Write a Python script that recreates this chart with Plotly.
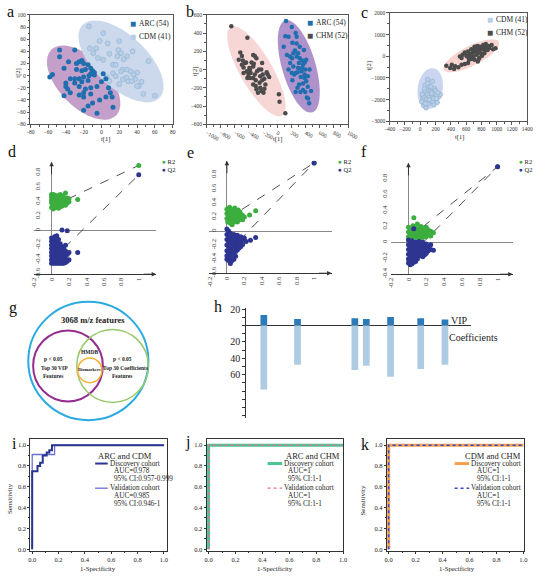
import numpy as np
import plotly.graph_objects as go

W, H = 546, 577
SERIF = "Liberation Serif"

# ---------------- data ----------------
# (a) ARC vs CDM score plot
a_arc_t1 = [-47,-47,-30,-42,-37,-28,-25,-22,-20,-15,-28,-22,-18,-12,-10,-8,-12,-8,-14,-20,-25,-30,-35,-40,-40,-38,-35,-42,-55,-58,-30,-22,-15,-25,-18,-12,-20,-25,-20,-12,-5,0,2,5,8,10,5,-2,-10,-15,-20,-5,13,12]
a_arc_t2 = [42,31,42,12,23,20,23,25,20,18,10,8,10,12,8,5,3,1,0,-2,-5,-5,-5,-12,-18,-22,-28,-33,2,-2,-12,-10,-8,-18,-22,-20,-28,-32,-35,-30,-18,-10,3,-5,-20,-28,-35,-40,-45,-50,-57,-62,-52,-35]
a_cdm_t1 = [-14,2,-6,-13,-2,9,19,22,20,29,13,16,25,24,29,33,38,30,34,42,40,53,47,60,22,20,13,6,9,-9,-4,2,36,40,28,24,16,18,7,35,45]
a_cdm_t2 = [81,70,45,45,57,36,42,37,57,32,18,18,27,10,10,7,-6,-9,-9,-17,5,24,-30,-33,7,-14,4,-3,-9,37,29,26,2,-17,-3,-6,-1,32,53,40,-10]

# (b) ARC vs CHM score plot
b_chm_t1 = [-650,-423,-523,-500,-545,-441,-341,-318,-295,-341,-477,-409,-409,-386,-341,-305,-259,-227,-214,-136,-114,-182,-250,-241,-295,-227,-182,-168,-273,23,32,114,-386,-377,-455,-500,-395,-423,-318,-286,-205,-241,-341,-305,-195,-214,-364,-332,-486,-432,-477,-150]
b_chm_t2 = [474,348,186,150,107,78,161,150,125,35,24,-37,-73,-91,-91,-116,0,0,71,-55,-80,-101,-145,-199,-217,-235,-209,-163,-253,-271,-353,-479,0,-37,71,53,17,-91,-55,-19,-55,-73,-163,-181,-253,-116,78,64,100,-19,-37,-30]
b_arc_t1 = [123,205,114,159,273,259,91,214,250,295,273,318,350,386,409,364,305,209,182,227,295,350,395,286,259,205,332,386,432,409,364,309,286,364,432,477,395,259,327,418,436,450,214,159,241,341,455,377,227,182,318,273,136,386]
b_arc_t2 = [532,467,366,359,359,402,251,294,208,179,143,125,100,78,107,53,71,125,71,35,17,17,0,-30,-37,-37,-80,-91,-73,-127,-152,-163,-199,-224,-188,-235,-246,-246,-246,-307,-318,-368,-116,0,-55,-19,0,215,179,143,251,287,161,-55]

# (c) CDM vs CHM score plot
c_chm_t1 = [341,392,443,498,541,583,625,541,604,647,689,723,765,795,825,858,892,934,985,740,774,710,668,753,808,838,880,710,668,625,583,554,519,613,655,698,753,782,816,850,901,731,689,753,795,638,456,413,850,952,680,765]
c_chm_t2 = [-432,-538,-583,-508,-387,-357,-311,-85,21,112,172,248,369,444,520,565,474,520,369,66,-85,-160,-130,-236,21,142,293,444,323,218,172,66,-9,-9,-39,-9,218,293,323,414,369,444,293,474,112,-160,-462,-387,263,323,66,-130]
c_cdm_t1 = [96,159,130,117,53,96,159,189,244,265,75,45,75,117,159,223,138,87,189,32,19,104,214,62,138,60,110,170,200,40,85,150,230,70,120,180,25,95,140,210,55]
c_cdm_t2 = [-1066,-1156,-1489,-1413,-1716,-1761,-1822,-1716,-1867,-1761,-2051,-2277,-2383,-2126,-2081,-2126,-1640,-1564,-1489,-1943,-2096,-2202,-1822,-1338,-1822,-1600,-1900,-1950,-1580,-1850,-1980,-1700,-1680,-2180,-2000,-2250,-1750,-1250,-1400,-1950,-1500]

# confidence ellipses: centre and two half-axis vectors (data units)
ell_a_arc = ((-20, -11.5), (36.4, -53.9), (19.3, 28.5))
ell_a_cdm = ((22, 23.5), (43.6, -59.3), (19.6, 31.8))
ell_b_chm = ((-295, -19), (364, -486), (195, 92))
ell_b_arc = ((304, 35), (191, -504), (227, 54))
ell_c_chm = ((668, 21), (360, 642), (57, -405))
ell_c_cdm = ((130, -1489), (42, 937), (161, -90))

# (d) permutation test ARC vs CDM
d_r2_x = [0,0,0,0,0,0.02,0.02,0.02,0.02,0.02,0.04,0.04,0.04,0.04,0.04,0.06,0.06,0.06,0.06,0.08,0.08,0.08,0.08,0.1,0.1,0.1,0.1,0.12,0.12,0.12,0.12,0.14,0.14,0.14,0.16,0.16,0.16,0.18,0.18,0.2,0.2,0.3,1.0]
d_r2_y = [0.32,0.38,0.42,0.46,0.5,0.30,0.35,0.40,0.45,0.50,0.32,0.36,0.41,0.46,0.49,0.33,0.38,0.43,0.48,0.31,0.36,0.42,0.47,0.33,0.38,0.43,0.5,0.34,0.39,0.44,0.48,0.36,0.41,0.46,0.35,0.42,0.52,0.38,0.45,0.4,0.44,0.43,0.9]
d_q2_x = [0,0,0,0,0,0,0,0,
          0.02,0.02,0.02,0.02,0.02,0.02,0.02,0.02,
          0.04,0.04,0.04,0.04,0.04,0.04,0.04,0.04,
          0.06,0.06,0.06,0.06,0.06,0.06,0.06,0.06,
          0.08,0.08,0.08,0.08,0.08,0.08,0.08,
          0.10,0.10,0.10,0.10,0.10,0.10,
          0.12,0.12,0.12,0.12,0.12,0.12,
          0.14,0.14,0.14,0.14,
          0.16,0.16,0.16,0.16,
          0.18,0.18,0.18,
          0.20,0.20,
          0.30,1.0]
d_q2_y = [-0.45,-0.40,-0.35,-0.30,-0.25,-0.20,-0.15,-0.10,
          -0.45,-0.40,-0.35,-0.30,-0.25,-0.20,-0.15,-0.10,
          -0.45,-0.40,-0.35,-0.30,-0.25,-0.20,-0.15,-0.08,
          -0.45,-0.40,-0.35,-0.30,-0.25,-0.20,-0.15,-0.07,
          -0.45,-0.40,-0.35,-0.30,-0.25,-0.20,-0.12,
          -0.45,-0.40,-0.35,-0.30,-0.25,-0.18,
          -0.45,-0.40,-0.35,-0.30,-0.22,0.01,
          -0.45,-0.38,-0.32,-0.25,
          -0.44,-0.36,-0.28,-0.20,
          -0.42,-0.33,0.00,
          -0.40,-0.30,
          -0.30,0.77]

# (e) permutation test ARC vs CHM
e_r2_x = [0.00,0.00,0.00,0.01,0.02,0.02,0.02,0.03,0.04,0.04,0.04,0.05,0.06,0.06,0.06,0.07,0.08,0.08,0.08,0.09,0.10,0.10,0.10,0.11,0.12,0.12,0.12,0.13,0.14,0.14,0.15,0.16,0.16,0.17,0.18,0.18,0.20,0.26,0.33,1.00]
e_r2_y = [0.18,0.25,0.31,0.13,0.16,0.22,0.28,0.34,0.11,0.19,0.25,0.31,0.09,0.15,0.22,0.28,0.13,0.19,0.26,0.33,0.15,0.21,0.27,0.17,0.13,0.2,0.25,0.3,0.16,0.22,0.27,0.18,0.24,0.2,0.16,0.22,0.2,0.23,0.29,0.97]
e_q2_x = [0.00,0.00,0.00,0.00,0.00,0.00,0.00,0.02,0.02,0.02,0.02,0.02,0.02,0.02,0.04,0.04,0.04,0.04,0.04,0.04,0.04,0.06,0.06,0.06,0.06,0.06,0.06,0.08,0.08,0.08,0.08,0.08,0.08,0.10,0.10,0.10,0.10,0.10,0.12,0.12,0.12,0.12,0.14,0.14,0.14,0.16,0.16,0.16,0.18,0.18,0.20,0.22,0.27,0.33,1.00]
e_q2_y = [0.03,-0.05,-0.12,-0.20,-0.28,-0.35,-0.40,0.00,-0.08,-0.15,-0.22,-0.30,-0.37,-0.42,-0.03,-0.10,-0.18,-0.25,-0.32,-0.40,-0.46,-0.06,-0.13,-0.20,-0.27,-0.34,-0.42,-0.05,-0.12,-0.19,-0.26,-0.33,-0.40,-0.08,-0.15,-0.22,-0.29,-0.36,-0.06,-0.13,-0.20,-0.27,-0.10,-0.17,-0.24,-0.08,-0.15,-0.22,-0.12,-0.19,-0.10,-0.15,-0.13,-0.09,0.97]

# (f) permutation test CDM vs CHM
f_r2_x = [0.00,0.00,0.00,0.03,0.03,0.03,0.05,0.05,0.05,0.06,0.08,0.08,0.08,0.10,0.10,0.10,0.12,0.12,0.12,0.14,0.14,0.14,0.16,0.16,0.16,0.18,0.18,0.20,0.20,0.20,0.22,0.22,0.25,0.25,0.28,1.00]
f_r2_y = [0.07,0.13,0.19,0.05,0.11,0.17,0.09,0.15,0.21,0.31,0.06,0.12,0.18,0.09,0.15,0.23,0.05,0.11,0.17,0.08,0.14,0.2,0.06,0.12,0.18,0.09,0.15,0.07,0.13,0.19,0.1,0.16,0.08,0.14,0.12,0.95]
f_q2_x = [0.00,0.00,0.00,0.00,0.00,0.00,0.02,0.02,0.02,0.02,0.02,0.02,0.04,0.04,0.04,0.04,0.04,0.04,0.06,0.06,0.06,0.06,0.06,0.06,0.08,0.08,0.08,0.08,0.08,0.10,0.10,0.10,0.10,0.12,0.12,0.12,0.12,0.14,0.14,0.14,0.16,0.16,0.16,0.16,0.18,0.18,0.18,0.20,0.20,0.20,0.22,0.22,0.25,0.25,0.28,1.00]
f_q2_y = [0.03,-0.03,-0.09,-0.15,-0.21,-0.26,0.00,-0.06,-0.12,-0.18,-0.24,-0.28,0.02,-0.04,-0.10,-0.16,-0.22,-0.27,0.17,-0.02,-0.08,-0.14,-0.20,-0.25,0.00,-0.06,-0.12,-0.18,-0.24,-0.03,-0.09,-0.15,-0.21,0.01,-0.05,-0.11,-0.17,-0.02,-0.08,-0.14,0.00,-0.06,-0.12,-0.18,-0.04,-0.10,-0.16,-0.02,-0.08,-0.14,-0.05,-0.11,-0.03,-0.09,-0.10,0.95]

# regression lines of the permutation tests: (intercept at x=0, value at x=1)
d_r2_line = [0.33, 0.9];  d_q2_line = [-0.41, 0.77]
e_r2_line = [0.17, 0.97]; e_q2_line = [-0.32, 0.97]
f_r2_line = [0.05, 0.95]; f_q2_line = [-0.19, 0.95]

perm_xtick_vals = [-0.2, 0, 0.2, 0.4, 0.6, 0.8, 1]
perm_xtick_text = ["-0.2", "0", "0.2", "0.4", "0.6", "0.8", "1"]
perm_ytick_vals = [-0.6, -0.4, -0.2, 0, 0.2, 0.4, 0.6, 0.8]
perm_ytick_text = ["-0.6", "-0.4", "-0.2", "0", "0.2", "0.4", "0.6", "0.8"]

# (h) VIP and coefficients of selected features
h_feature_pos = [7.8, 22.8, 48.3, 53.4, 64.2, 77.6, 88.4]
h_vip = [12.8, 8.0, 8.8, 8.0, 10.4, 8.8, 7.2]
h_coef = [78, 48, 54.4, 49.2, 62.4, 53.2, 48]
h_tick_vals = [20, 10, 0, -10, -20, -30, -40, -50, -60, -70, -80, -90, -100, -110]
h_tick_text = ["20", "", "", "", "20", "", "40", "", "60", "", "", "", "", ""]

# (i, j, k) ROC curves
i_disc_fpr = [0, 0, 0.04, 0.06, 0.08, 0.11, 0.13, 0.15, 1]
i_disc_tpr = [0, 0.75, 0.80, 0.83, 0.90, 0.93, 0.95, 1, 1]
i_val_fpr = [0, 0, 0.17, 1]
i_val_tpr = [0, 0.91, 1, 1]
j_disc_fpr = [0, 0, 1]; j_disc_tpr = [0, 1, 1]
j_val_fpr = [0, 0, 1];  j_val_tpr = [0, 1, 1]
k_disc_fpr = [0, 0, 1]; k_disc_tpr = [0, 1, 1]
k_val_fpr = [0, 0, 1];  k_val_tpr = [0, 1, 1]

# ---------------- colours ----------------
C_ARC = "#1f6fae"
C_CDM = "#b7cfe6"
C_CDM_EDGE = "#8eaed0"
C_CHM = "#4b4b4b"
C_R2 = "#3cae3f"
C_Q2 = "#2d3591"

# ---------------- helpers ----------------
def xdom(l, r): return [l / W, r / W]
def ydom(t, b): return [1 - b / H, 1 - t / H]
def PX(x): return x / W
def PY(y): return 1 - y / H

fig = go.Figure()
layout_axes = {}
shapes = []
anns = []

def add_axes(n, xd, yd, xr, yr, xkw=None, ykw=None):
    s = "" if n == 1 else str(n)
    ax = dict(domain=xd, range=xr, anchor="y" + s, showgrid=False, zeroline=False)
    ay = dict(domain=yd, range=yr, anchor="x" + s, showgrid=False, zeroline=False)
    ax.update(xkw or {})
    ay.update(ykw or {})
    layout_axes["xaxis" + s] = ax
    layout_axes["yaxis" + s] = ay

def txt(x, y, s, size, xanchor="center", yanchor="middle", bold=False, angle=0, color="#222"):
    anns.append(dict(x=PX(x), y=PY(y), xref="paper", yref="paper",
                     text=("<b>" + s + "</b>") if bold else s, showarrow=False,
                     xanchor=xanchor, yanchor=yanchor, textangle=angle, borderpad=0,
                     font=dict(family=SERIF, size=size, color=color)))

def ellipse(params, n, fill):
    (cx, cy), (ux, uy), (vx, vy) = params
    t = np.linspace(0, 2 * np.pi, 90)
    xs = cx + np.cos(t) * ux + np.sin(t) * vx
    ys = cy + np.cos(t) * uy + np.sin(t) * vy
    path = "M " + " L ".join(f"{a:.2f},{b:.2f}" for a, b in zip(xs, ys)) + " Z"
    s = "" if n == 1 else str(n)
    shapes.append(dict(type="path", path=path, xref="x" + s, yref="y" + s,
                       fillcolor=fill, line=dict(width=0), layer="below"))

def score_axis(dtick, minor):
    return dict(showline=True, linecolor="#555", linewidth=0.8, mirror=True,
                ticks="outside", ticklen=2.5, tickwidth=0.6, tickcolor="#555",
                tickfont=dict(family=SERIF, size=5.5, color="#333"), dtick=dtick,
                minor=dict(ticks="outside", ticklen=1.5, tickwidth=0.5, tickcolor="#555", dtick=minor))

# ---------------- panels a-c ----------------
add_axes(1, xdom(25, 172), ydom(11, 122), [-80, 80], [-80, 100], score_axis(20, 10), score_axis(20, 10))
add_axes(2, xdom(207, 353), ydom(11, 122), [-1000, 1000], [-600, 600], score_axis(200, 100), score_axis(200, 100))
add_axes(3, xdom(396, 538), ydom(9, 119), [-400, 1400], [-3000, 2000], score_axis(200, 100), score_axis(1000, 500))

ellipse(ell_a_arc, 1, "#c49fc9")
ellipse(ell_a_cdm, 1, "#ccd9ec")
ellipse(ell_b_chm, 2, "#f7d6d6")
ellipse(ell_b_arc, 2, "#ad92cc")
ellipse(ell_c_chm, 3, "#f8d4d0")
ellipse(ell_c_cdm, 3, "#cad5ef")

def pts(x, y, n, color, size=5, edge=None):
    s = "" if n == 1 else str(n)
    fig.add_trace(go.Scatter(x=x, y=y, mode="markers", xaxis="x" + s, yaxis="y" + s,
                             marker=dict(color=color, size=size,
                                         line=dict(color=edge or color, width=0.6 if edge else 0))))

pts(a_cdm_t1, a_cdm_t2, 1, C_CDM, 5, C_CDM_EDGE)
pts(a_arc_t1, a_arc_t2, 1, C_ARC, 5)
pts(b_chm_t1, b_chm_t2, 2, C_CHM, 4.5)
pts(b_arc_t1, b_arc_t2, 2, C_ARC, 4.5)
pts(c_chm_t1, c_chm_t2, 3, C_CHM, 4.5)
pts(c_cdm_t1, c_cdm_t2, 3, C_CDM, 4.5, C_CDM_EDGE)

# legends a-c
def sq_legend(x, y, color, label):
    txt(x, y, "■", 10, color=color)
    txt(x + 5, y, label, 7.5, xanchor="left")

sq_legend(131, 20, C_ARC, "ARC (54)")
sq_legend(131, 33, C_CDM, "CDM (41)")
sq_legend(314, 19, C_ARC, "ARC (54)")
sq_legend(314, 32, C_CHM, "CHM (52)")
sq_legend(500, 16, C_CDM, "CDM (41)")
sq_legend(500, 29, C_CHM, "CHM (52)")

for (x1, y1, x2, y2) in [(103, 137, 12, 70), (280, 137, 195, 68), (468, 135, 375, 63)]:
    txt(x1, y1, "t[1]", 6.5)
    txt(x2, y2, "t[2]", 6.5, angle=-90)

# ---------------- panels d-f ----------------
def perm_x():
    return dict(showline=True, linecolor="#333", linewidth=1, tickangle=-90,
                tickvals=perm_xtick_vals, ticktext=perm_xtick_text,
                tickfont=dict(family=SERIF, size=6.5, color="#333"),
                zeroline=True, zerolinecolor="#888", zerolinewidth=1)

def perm_y(pos, vals, text):
    return dict(anchor="free", position=pos, showline=False, tickangle=-90,
                tickvals=vals, ticktext=text,
                tickfont=dict(family=SERIF, size=6.5, color="#333"),
                zeroline=True, zerolinecolor="#888", zerolinewidth=1)

add_axes(4, xdom(29, 155), ydom(160, 274), [-0.2, 1.2], [-0.6, 0.95],
         perm_x(), perm_y(36 / W, perm_ytick_vals, perm_ytick_text))
add_axes(5, xdom(210, 336), ydom(159, 273), [-0.2, 1.2], [-0.6, 1.0],
         perm_x(), perm_y(218 / W, perm_ytick_vals, perm_ytick_text))
add_axes(6, xdom(397, 523), ydom(161, 274), [-0.2, 1.17], [-0.4, 1.0],
         perm_x(), perm_y(395 / W, perm_ytick_vals[1:], perm_ytick_text[1:]))

def perm_panel(n, r2x, r2y, q2x, q2y, r2l, q2l, xr, yr, legx):
    s = str(n)
    for ln in (r2l, q2l):
        fig.add_trace(go.Scatter(x=[0, 1], y=ln, mode="lines", xaxis="x" + s, yaxis="y" + s,
                                 line=dict(color="#222", width=0.8, dash="dash")))
    fig.add_trace(go.Scatter(x=r2x, y=r2y, mode="markers", xaxis="x" + s, yaxis="y" + s,
                             marker=dict(color=C_R2, size=5)))
    fig.add_trace(go.Scatter(x=q2x, y=q2y, mode="markers", xaxis="x" + s, yaxis="y" + s,
                             marker=dict(color=C_Q2, size=5)))
    anns.append(dict(x=0, y=yr[1], xref="x" + s, yref="y" + s, ax=0, ay=14, text="",
                     showarrow=True, arrowhead=2, arrowsize=0.9, arrowwidth=1, arrowcolor="#333"))
    anns.append(dict(x=xr[1], y=yr[0], xref="x" + s, yref="y" + s, ax=-14, ay=0, text="",
                     showarrow=True, arrowhead=2, arrowsize=0.9, arrowwidth=1, arrowcolor="#333"))
    txt(legx, 160, f'<span style="color:{C_R2}">●</span> R2', 6.5, xanchor="left")
    txt(legx, 168, f'<span style="color:{C_Q2}">●</span> Q2', 6.5, xanchor="left")

perm_panel(4, d_r2_x, d_r2_y, d_q2_x, d_q2_y, d_r2_line, d_q2_line, [-0.2, 1.2], [-0.6, 0.95], 160)
perm_panel(5, e_r2_x, e_r2_y, e_q2_x, e_q2_y, e_r2_line, e_q2_line, [-0.2, 1.2], [-0.6, 1.0], 342)
perm_panel(6, f_r2_x, f_r2_y, f_q2_x, f_q2_y, f_r2_line, f_q2_line, [-0.2, 1.17], [-0.4, 1.0], 528)

# ---------------- panel g (Venn) ----------------
def circ(x0, y0, x1, y1, color, width):
    shapes.append(dict(type="circle", xref="paper", yref="paper",
                       x0=PX(x0), x1=PX(x1), y0=PY(y1), y1=PY(y0),
                       line=dict(color=color, width=width)))

circ(23, 302, 147, 422, "#2aaae1", 2)
circ(28, 331, 100, 403, "#952d8f", 2)
circ(73, 330, 147, 404, "#98c96a", 1.5)
circ(74, 359, 99, 384, "#f8b234", 1.5)
txt(90, 320, "3068 m/z features", 8.5, bold=True)
txt(86, 353, "HMDB", 5.5, bold=True)
txt(86, 371, "Biomarkers", 4.5, bold=True)
txt(49, 360, "p < 0.05", 5.5, bold=True)
txt(50, 369, "Top 30 VIP", 5.5, bold=True)
txt(49, 377, "Features", 5.5, bold=True)
txt(120, 360, "p < 0.05", 5.5, bold=True)
txt(123, 369, "Top 30 Coefficients", 5.5, bold=True)
txt(120, 377, "Features", 5.5, bold=True)

# ---------------- panel h ----------------
add_axes(7, xdom(248, 480), ydom(308, 420), [0, 100], [-113, 21.6],
         dict(visible=False),
         dict(showline=True, linecolor="#333", linewidth=1, ticks="outside", ticklen=3,
              tickcolor="#333", tickvals=h_tick_vals, ticktext=h_tick_text,
              tickfont=dict(family=SERIF, size=10, color="#222"),
              zeroline=True, zerolinecolor="#333", zerolinewidth=1.2))
fig.add_trace(go.Bar(x=h_feature_pos, y=h_vip, width=3, xaxis="x7", yaxis="y7",
                     marker=dict(color="#2c7bb8", line=dict(width=0))))
fig.add_trace(go.Bar(x=h_feature_pos, y=[-c for c in h_coef], width=3, xaxis="x7", yaxis="y7",
                     marker=dict(color="#aecbe4", line=dict(width=0))))
txt(468, 321, "VIP", 10)
txt(483, 338, "Coefficients", 10)

# ---------------- panels i-k ----------------
def roc_axis():
    return dict(showline=True, linecolor="#333", linewidth=0.8, mirror=True,
                ticks="outside", ticklen=2, tickcolor="#333", tick0=0, dtick=0.2,
                tickformat=".1f", tickfont=dict(family=SERIF, size=6.5, color="#222"),
                minor=dict(ticks="outside", ticklen=1.2, tickcolor="#333", dtick=0.1, tick0=0))

add_axes(8, xdom(25, 166), ydom(441, 555), [-0.015, 1.022], [-0.02, 1.06], roc_axis(), roc_axis())
add_axes(9, xdom(207, 348), ydom(441, 555), [-0.015, 1.0], [-0.02, 1.06], roc_axis(), roc_axis())
add_axes(10, xdom(393, 535), ydom(441, 555), [-0.014, 1.007], [-0.02, 1.06], roc_axis(), roc_axis())

def roc(n, x, y, color, width, dash="solid"):
    s = str(n)
    fig.add_trace(go.Scatter(x=x, y=y, mode="lines", xaxis="x" + s, yaxis="y" + s,
                             line=dict(color=color, width=width, dash=dash, shape="hv")))

roc(8, i_val_fpr, i_val_tpr, "#6c70d6", 1.3)
roc(8, i_disc_fpr, i_disc_tpr, "#283593", 2)
roc(9, j_disc_fpr, j_disc_tpr, "#49c495", 3)
roc(9, j_val_fpr, j_val_tpr, "#f06b8a", 1.2, "dot")
roc(10, k_disc_fpr, k_disc_tpr, "#f6a04d", 3)
roc(10, k_val_fpr, k_val_tpr, "#3546d4", 1.5, "dot")

def roc_legend(title_x, lx0, lx1, tx, title, c1, w1, d1, auc1, ci1, c2, w2, d2, auc2, ci2):
    txt(title_x, 458, title, 8.5)
    shapes.append(dict(type="line", xref="paper", yref="paper", x0=PX(lx0), x1=PX(lx1),
                       y0=PY(466), y1=PY(466), line=dict(color=c1, width=w1, dash=d1)))
    txt(lx1 + 1, 466, "Discovery cohort", 7.2, xanchor="left")
    txt(tx, 474, auc1, 7.2, xanchor="left")
    txt(tx, 482, ci1, 7.2, xanchor="left")
    shapes.append(dict(type="line", xref="paper", yref="paper", x0=PX(lx0), x1=PX(lx1),
                       y0=PY(491), y1=PY(491), line=dict(color=c2, width=w2, dash=d2)))
    txt(lx1 + 1, 491, "Validation cohort", 7.2, xanchor="left")
    txt(tx, 499, auc2, 7.2, xanchor="left")
    txt(tx, 507, ci2, 7.2, xanchor="left")

roc_legend(123, 92, 105, 110, "ARC and CDM", "#283593", 2, "solid", "AUC=0.978", "95% CI:0.957-0.999",
           "#6c70d6", 1.3, "solid", "AUC=0.985", "95% CI:0.946-1")
roc_legend(317, 270, 285, 290, "ARC and CHM", "#49c495", 3, "solid", "AUC=1", "95% CI:1-1",
           "#f06b8a", 1.2, "dot", "AUC=1", "95% CI:1-1")
roc_legend(503, 463, 478, 485, "CDM and CHM", "#f6a04d", 3, "solid", "AUC=1", "95% CI:1-1",
           "#3546d4", 1.5, "dot", "AUC=1", "95% CI:1-1")

txt(4, 502, "Sensitivity", 7, angle=-90)
txt(95, 572.5, "1-Specificity", 6.8)
txt(278, 572.5, "1-Specificity", 6.8)
txt(369, 504, "Sensitivity", 7, angle=-90)
txt(465, 572.5, "1-Specificity", 6.8)

# ---------------- panel letters ----------------
for letter, x, y in [("a", 5, 8), ("b", 190, 8), ("c", 370, 9), ("d", 6, 150), ("e", 190, 151),
                     ("f", 370, 150), ("g", 7, 308), ("h", 219, 307), ("i", 9, 446),
                     ("j", 187, 444), ("k", 371, 447)]:
    txt(x, y, letter, 16, color="#111")

fig.update_layout(width=W, height=H, autosize=False, margin=dict(l=0, r=0, t=0, b=0),
                  paper_bgcolor="white", plot_bgcolor="white", showlegend=False,
                  barmode="overlay", shapes=shapes, annotations=anns, **layout_axes)
fig.write_html("out.html", config={"displayModeBar": False},
               post_script="document.body.style.margin='0px';document.body.style.padding='0px';"
                           "document.body.style.overflow='hidden';")
